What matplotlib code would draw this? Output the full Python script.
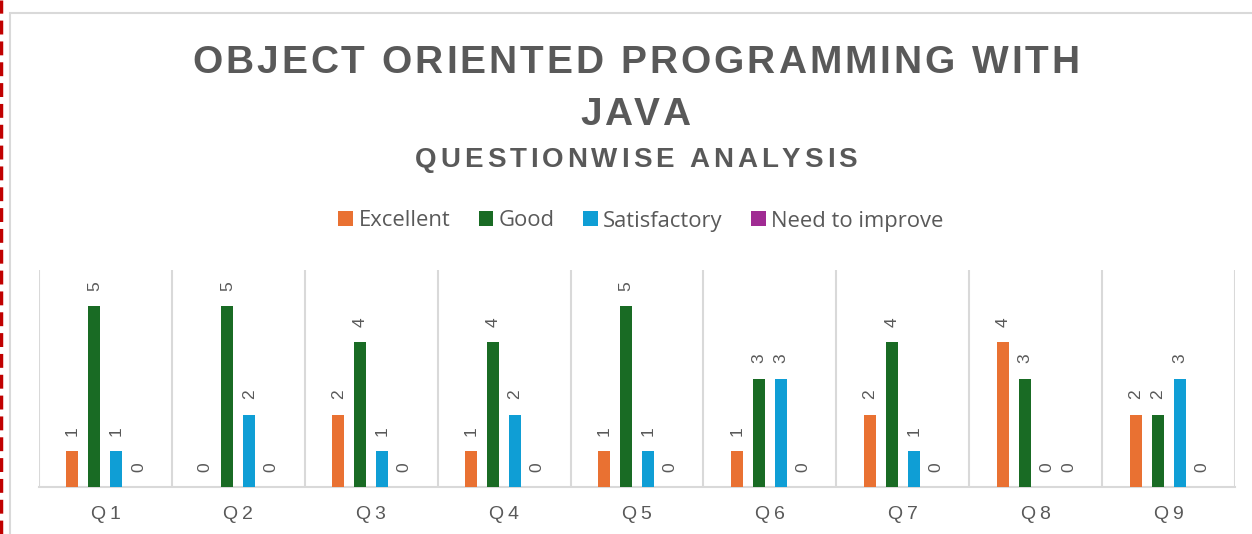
import matplotlib
matplotlib.use("Agg")
import matplotlib.pyplot as plt
import numpy as np
from matplotlib.font_manager import FontProperties, findfont, get_font
from matplotlib.lines import Line2D
from matplotlib.patches import Rectangle

# ---- data -------------------------------------------------------------
questions = ["Q1", "Q2", "Q3", "Q4", "Q5", "Q6", "Q7", "Q8", "Q9"]
series_names = ["Excellent", "Good", "Satisfactory", "Need to improve"]
excellent = [1, 0, 2, 1, 1, 1, 2, 4, 2]
good = [5, 5, 4, 4, 5, 3, 4, 3, 2]
satisfactory = [1, 2, 1, 2, 1, 3, 1, 0, 3]
need_to_improve = [0, 0, 0, 0, 0, 0, 0, 0, 0]

title_lines = ["OBJECT ORIENTED PROGRAMMING WITH", "JAVA"]
subtitle = "QUESTIONWISE ANALYSIS"

colors = ["#E97132", "#196B24", "#0F9ED5", "#A02B93"]
TEXT = "#595959"
GRID = "#D9D9D9"

W, H = 1252, 534
fig = plt.figure(figsize=(W / 100, H / 100), dpi=100)


def spaced_text(s, x_center, y_base, size, tracking, weight="bold"):
    """Draw text char by char (matplotlib has no letter spacing)."""
    fp = FontProperties(family="Liberation Sans", weight=weight, size=size)
    font = get_font(findfont(fp))
    font.set_size(size, 100)
    widths = [font.load_char(ord(c)).linearHoriAdvance / 65536 for c in s]
    total = sum(widths) + tracking * (len(s) - 1)
    x = x_center - total / 2
    for c, w in zip(s, widths):
        fig.text(x / W, 1 - y_base / H, c, fontproperties=fp, color=TEXT,
                 ha="left", va="baseline")
        x += w + tracking


# chart frame + dashed selection edge on the left
fig.add_artist(Rectangle((9.5 / W, -0.1), 1.2, 1.1 - 13.5 / H,
                         transform=fig.transFigure, fill=False,
                         edgecolor=GRID, linewidth=1.5))
fig.add_artist(Line2D([1 / W, 1 / W], [0, 1], transform=fig.transFigure,
                      color="#C00000", linewidth=2.5, linestyle=(0, (4, 2))))

# titles
spaced_text(title_lines[0], 636, 73, 28, 3.0)
spaced_text(title_lines[1], 635, 125, 28, 2.0)
spaced_text(subtitle, 636, 167, 20, 3.9)

# ---- bars ---------------------------------------------------------------
ax = fig.add_axes([39 / W, 47 / H, 1196 / W, 217 / H])
x = np.arange(len(questions))
values = [excellent, good, satisfactory, need_to_improve]
bar_w = 0.09
step = 0.1655

handles = []
for i, (name, vals, col) in enumerate(zip(series_names, values, colors)):
    pos = x + (i - 1.5) * step
    bars = ax.bar(pos, vals, width=bar_w, color=col, label=name, zorder=3)
    handles.append(bars)
    for px, v in zip(pos, vals):
        ax.annotate(str(v), (px, v), xytext=(0, 11), textcoords="offset points",
                    ha="center", va="bottom", rotation=90, fontsize=12.5,
                    color=TEXT, family="Liberation Sans")

ax.set_xlim(-0.5, len(questions) - 0.5)
ax.set_ylim(0, 6)
ax.set_yticks([])
ax.set_xticks(x)
ax.set_xticklabels([q[0] + "\u2009" + q[1:] for q in questions],
                   family=["Liberation Sans", "DejaVu Sans"], fontsize=14,
                   color=TEXT)
ax.tick_params(axis="x", length=0, pad=14)
for b in np.arange(-0.5, len(questions), 1.0):
    ax.axvline(b, color=GRID, linewidth=1.5, zorder=1)
for sp in ["top", "left", "right"]:
    ax.spines[sp].set_visible(False)
ax.spines["bottom"].set_color(GRID)
ax.spines["bottom"].set_linewidth(1.5)

fig.legend(handles=handles, labels=series_names, loc="center",
           bbox_to_anchor=(641 / W, 1 - 221 / H), ncol=4, frameon=False,
           handlelength=0.66, handleheight=0.66, handletextpad=0.25,
           columnspacing=1.3, prop={"family": "Open Sans", "size": 15.8},
           labelcolor=TEXT)

fig.savefig("out.png", dpi=100)
